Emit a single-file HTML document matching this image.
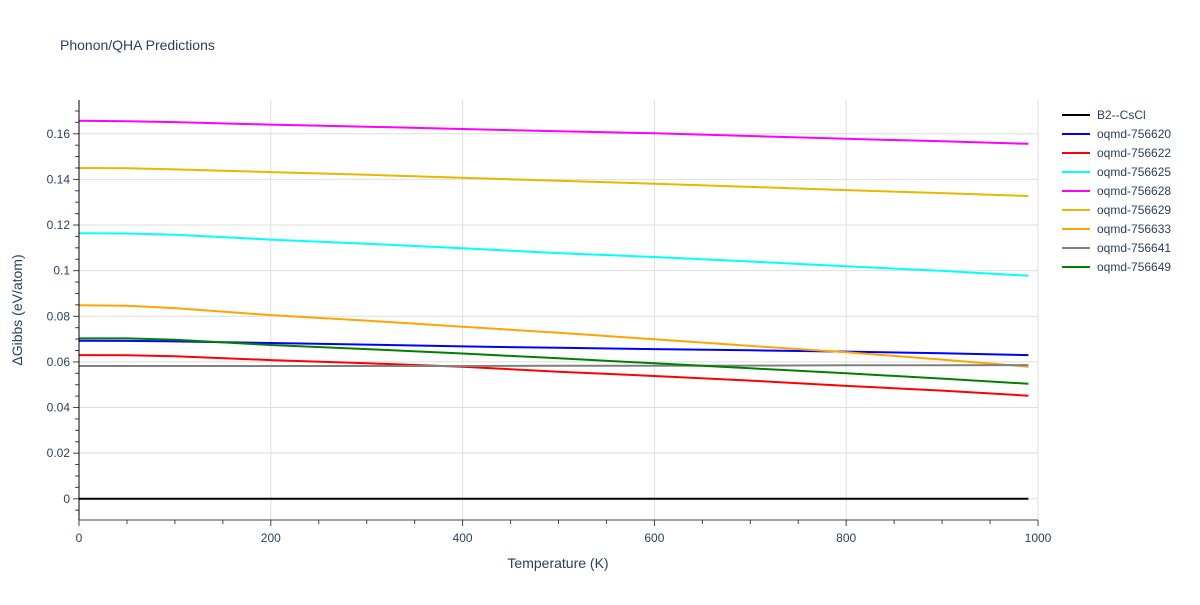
<!DOCTYPE html>
<html><head><meta charset="utf-8"><style>
body{margin:0;background:#fff;font-family:"Liberation Sans",sans-serif;}
svg text{font-family:"Liberation Sans",sans-serif;fill:#2a3f5f;}
</style></head><body>
<svg id="c" width="1200" height="600" xmlns="http://www.w3.org/2000/svg">
<text x="60" y="50" font-size="14">Phonon/QHA Predictions</text>
<g id="grid"></g><g id="series"></g><g id="axes"></g><g id="legend"></g>
<text x="558" y="568" font-size="14" text-anchor="middle">Temperature (K)</text>
<text transform="translate(22,310) rotate(-90)" font-size="14" text-anchor="middle">ΔGibbs (eV/atom)</text>
</svg>
<script>
const temps=[0,50,100,200,300,400,500,600,700,800,900,990];
const names=["B2--CsCl","oqmd-756620","oqmd-756622","oqmd-756625","oqmd-756628","oqmd-756629","oqmd-756633","oqmd-756641","oqmd-756649"];
const colors=["#000000","#0000ff","#ff0000","#00ffff","#ff00ff","#e6b800","#ffa500","#808080","#008000"];
const s0=[0,0,0,0,0,0,0,0,0,0,0,0];
const s1=[0.0693,0.0692,0.0690,0.0683,0.0676,0.0668,0.0662,0.0656,0.0651,0.0645,0.0638,0.0630];
const s2=[0.0630,0.0629,0.0625,0.0608,0.0594,0.0579,0.0557,0.0538,0.0518,0.0495,0.0474,0.0452];
const s3=[0.1164,0.1163,0.1157,0.1136,0.1118,0.1098,0.1077,0.1060,0.1040,0.1019,0.0999,0.0978];
const s4=[0.1657,0.1655,0.1651,0.1640,0.1631,0.1621,0.1611,0.1602,0.1590,0.1578,0.1567,0.1556];
const s5=[0.1450,0.1449,0.1444,0.1432,0.1420,0.1407,0.1394,0.1381,0.1367,0.1353,0.1340,0.1327];
const s6=[0.0848,0.0846,0.0836,0.0805,0.0781,0.0754,0.0728,0.0699,0.0670,0.0642,0.0610,0.0579];
const s7=[0.0582,0.0582,0.0582,0.0582,0.0582,0.0582,0.0583,0.0583,0.0584,0.0585,0.0585,0.0586];
const s8=[0.0703,0.0703,0.0697,0.0674,0.0656,0.0637,0.0616,0.0594,0.0572,0.0550,0.0527,0.0504];
const series=[s0,s1,s2,s3,s4,s5,s6,s7,s8];
const xTicks=[0,200,400,600,800,1000];
const yTicks=[0,0.02,0.04,0.06,0.08,0.1,0.12,0.14,0.16];
const yTickLabels=["0","0.02","0.04","0.06","0.08","0.1","0.12","0.14","0.16"];
const L=79,R=1038,T=100,B=520,xmin=0,xmax=1000,ymin=-0.0093,ymax=0.1748;
const X=v=>L+(v-xmin)/(xmax-xmin)*(R-L);
const Y=v=>B-(v-ymin)/(ymax-ymin)*(B-T);
const NS="http://www.w3.org/2000/svg";
function mk(tag,attrs,parent){const e=document.createElementNS(NS,tag);for(const k in attrs)e.setAttribute(k,attrs[k]);parent.appendChild(e);return e;}
const grid=document.getElementById('grid'),axes=document.getElementById('axes'),ser=document.getElementById('series'),leg=document.getElementById('legend');
xTicks.forEach((t,i)=>{
  if(t>0){const g=mk('line',{x1:X(t),x2:X(t),y1:T,y2:B,stroke:'#dedede','stroke-width':1},grid);
  
  }
  const tx=mk('text',{x:X(t),y:B+22,'font-size':12,'text-anchor':'middle'},axes);tx.textContent=t;
  
  
});
for(let t=0;t<=1000;t+=50){const tk=mk('line',{x1:X(t),x2:X(t),y1:B,y2:B+(t%200===0?6:4),stroke:'#444','stroke-width':1},axes);
  
  }
yTicks.forEach((t,i)=>{
  const g=mk('line',{x1:L,x2:R,y1:Y(t),y2:Y(t),stroke:'#dedede','stroke-width':1},grid);
  
  
  const tx=mk('text',{x:L-9,y:Y(t)+4,'font-size':12,'text-anchor':'end'},axes);tx.textContent=yTickLabels[i];
  
  
});
for(let k=-1;k<=34;k++){const v=k*0.005;if(v<ymin||v>ymax)continue;
  const tk=mk('line',{x1:L-(k%4===0?6:4),x2:L,y1:Y(v),y2:Y(v),stroke:'#444','stroke-width':1},axes);
  
  }
const ax=mk('line',{x1:L,x2:L,y1:T,y2:B,stroke:'#000','stroke-width':1},axes);


const bx=mk('line',{x1:L,x2:R,y1:B,y2:B,stroke:'#444','stroke-width':1},axes);


series.forEach((s,i)=>{
  const d=s.map((v,j)=>(j?'L':'M')+X(temps[j]).toFixed(1)+','+Y(v).toFixed(1)).join(' ');
  const p=mk('path',{d:d,fill:'none',stroke:colors[i],'stroke-width':2},ser);
  
  
  const ly=115+i*19;
  const g=mk('g',{},leg);
  
  
  mk('line',{x1:1062,x2:1090,y1:ly,y2:ly,stroke:colors[i],'stroke-width':2},g);
  const t=mk('text',{x:1097,y:ly+4,'font-size':12},g);t.textContent=names[i];
});
</script>
</body></html>
